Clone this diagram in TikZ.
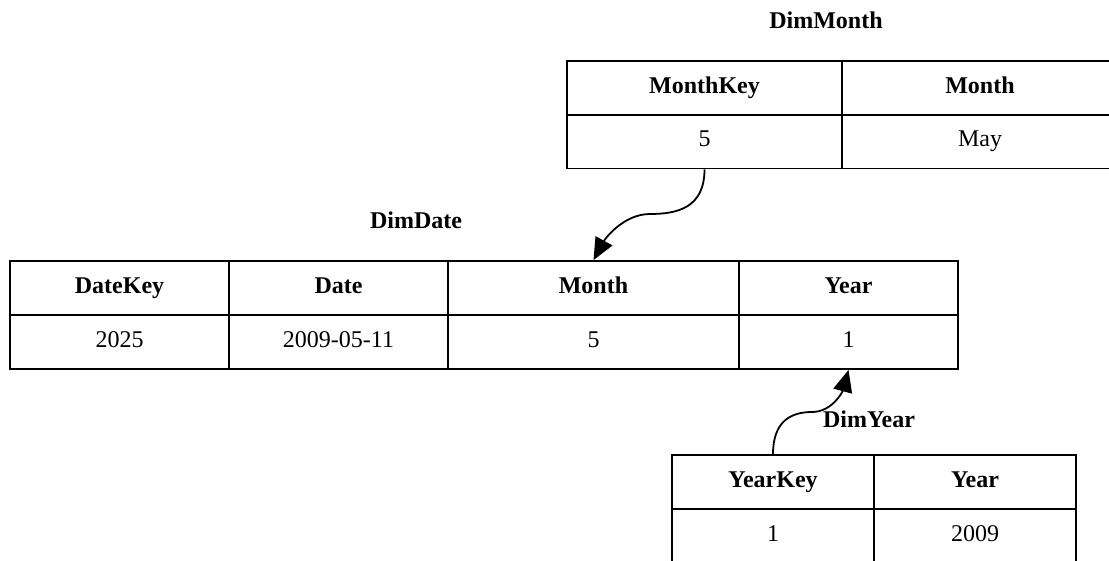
\documentclass[tikz,border=0pt]{standalone}
\usepackage{fontspec}
\setmainfont{Liberation Serif}
\usetikzlibrary{arrows.meta}
\begin{document}
\begin{tikzpicture}[x=1pt,y=-1pt,
  every node/.style={font=\fontsize{24}{28}\selectfont},
  cell/.style={draw, line width=1.8pt, minimum height=54pt, inner sep=0pt,
    text height=16pt, text depth=5pt, anchor=center},
  hcell/.style={cell, font=\fontsize{24}{28}\selectfont\bfseries},
  title/.style={font=\fontsize{24}{28}\selectfont\bfseries, inner sep=0pt},
  link/.style={line width=1.8pt, -{Triangle[length=22pt,width=19pt]}}]
\useasboundingbox (0,0) rectangle (1109,561);

% DimMonth
\node[title] (tmonth) at (826,20) {DimMonth};
\node[hcell, minimum width=275pt] (mkh) at (704.5,88) {MonthKey};
\node[hcell, minimum width=276pt] (mmh) at (980,88) {Month};
\node[cell, minimum width=275pt] (mkv) at (704.5,141.5) {5};
\node[cell, minimum width=276pt] (mmv) at (980,141.5) {May};

% DimDate
\node[title] (tdate) at (416,220) {DimDate};
\node[hcell, minimum width=219pt] (dkh) at (119.5,288) {DateKey};
\node[hcell, minimum width=219pt] (ddh) at (338.5,288) {Date};
\node[hcell, minimum width=291pt] (dmh) at (593.5,288) {Month};
\node[hcell, minimum width=219pt] (dyh) at (848.5,288) {Year};
\node[cell, minimum width=219pt] (dkv) at (119.5,342) {2025};
\node[cell, minimum width=219pt] (ddv) at (338.5,342) {2009-05-11};
\node[cell, minimum width=291pt] (dmv) at (593.5,342) {5};
\node[cell, minimum width=219pt] (dyv) at (848.5,342) {1};

% DimYear
\node[title] (tyear) at (869,419) {DimYear};
\node[hcell, minimum width=202pt] (ykh) at (773,482) {YearKey};
\node[hcell, minimum width=202pt] (yyh) at (975,482) {Year};
\node[cell, minimum width=202pt] (ykv) at (773,536) {1};
\node[cell, minimum width=202pt] (yyv) at (975,536) {2009};

% Key references
\coordinate (bendm) at (650,214);
\coordinate (bendy) at (812,412);
\draw[link] (mkv.south) .. controls +(0,38) and +(28,0) .. (bendm)
  .. controls +(-26,0) and +(12,-22) .. (dmh.north);
\draw[link] (ykh.north) .. controls +(0,-32) and +(-22,0) .. (bendy)
  .. controls +(20,0) and +(-6,22) .. (dyv.south);
\end{tikzpicture}
\end{document}
